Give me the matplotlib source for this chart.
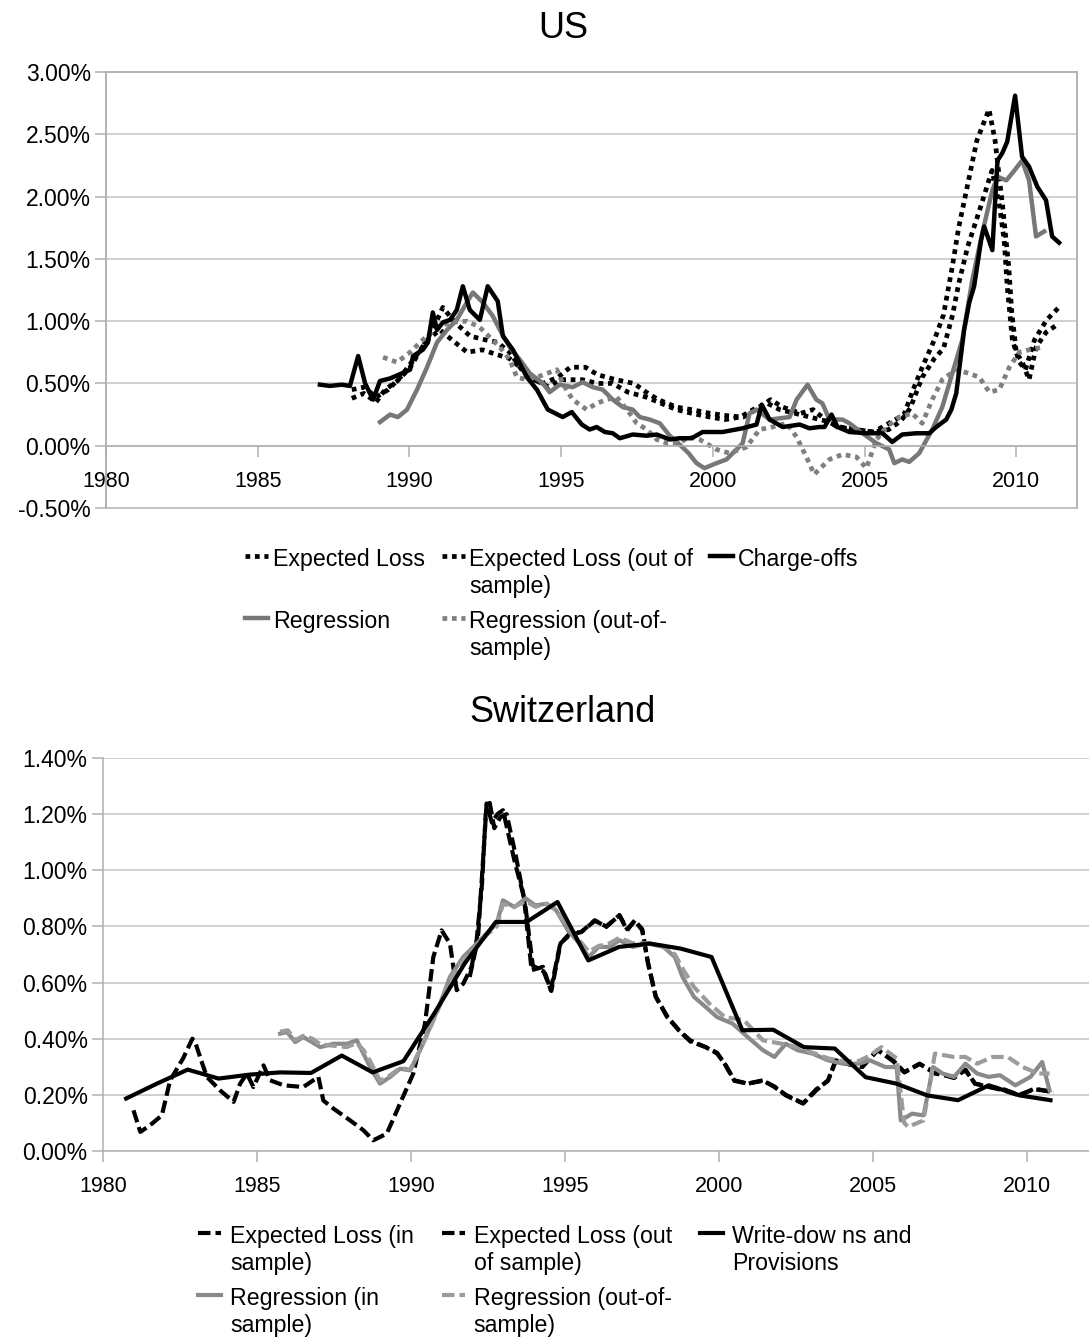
import matplotlib
matplotlib.use("Agg")
import matplotlib.pyplot as plt
import numpy as np
from matplotlib.ticker import FuncFormatter

plt.rcParams['font.family'] = ['Liberation Sans', 'DejaVu Sans']

# ---------------- US data (year, percent) ----------------
us_expected_loss = [(1988.1,0.38),(1988.5,0.42),(1988.9,0.35),(1989.2,0.45),(1989.6,0.52),(1990.0,0.62),(1990.4,0.78),(1990.8,0.95),(1991.1,1.11),(1991.5,0.99),(1992.0,0.88),(1992.5,0.85),(1992.9,0.83),(1993.3,0.75),(1993.7,0.61),(1994.1,0.53),(1994.4,0.50),(1994.9,0.55),(1995.3,0.63),(1995.8,0.63),(1996.2,0.57),(1996.8,0.53),(1997.4,0.50),(1997.8,0.43),(1998.2,0.37),(1998.8,0.31),(1999.3,0.29),(1999.9,0.26),(2000.5,0.24),(2001.0,0.23),(2001.5,0.30),(2001.9,0.37),(2002.3,0.31),(2002.9,0.26),(2003.3,0.29),(2003.6,0.23),(2004.1,0.15),(2004.7,0.13),(2005.3,0.11),(2005.8,0.18),(2006.3,0.25),(2006.6,0.45),(2006.9,0.63),(2007.3,0.85),(2007.6,1.05),(2007.9,1.45),(2008.1,1.75),(2008.4,2.10),(2008.7,2.45),(2009.1,2.70),(2009.3,2.45),(2009.45,2.13),(2009.55,1.92),(2009.75,1.44),(2009.85,1.07),(2010.0,0.75),(2010.2,0.67),(2010.42,0.53),(2010.65,0.79),(2010.98,0.91),(2011.4,0.98)]
us_expected_loss_out = [(1988.1,0.45),(1988.5,0.47),(1988.9,0.39),(1989.3,0.45),(1989.7,0.55),(1990.1,0.68),(1990.6,0.85),(1991.0,0.93),(1991.4,0.85),(1991.9,0.75),(1992.4,0.77),(1992.9,0.73),(1993.3,0.70),(1993.8,0.60),(1994.2,0.52),(1994.6,0.47),(1995.0,0.53),(1995.7,0.53),(1996.2,0.50),(1996.7,0.50),(1997.2,0.43),(1997.8,0.39),(1998.3,0.34),(1998.8,0.29),(1999.3,0.26),(1999.9,0.23),(2000.4,0.21),(2000.9,0.23),(2001.4,0.30),(2001.8,0.34),(2002.2,0.29),(2002.7,0.26),(2003.2,0.23),(2003.7,0.20),(2004.2,0.15),(2004.7,0.13),(2005.3,0.11),(2005.8,0.13),(2006.2,0.20),(2006.5,0.30),(2006.9,0.55),(2007.3,0.70),(2007.6,0.78),(2007.9,1.05),(2008.1,1.30),(2008.4,1.60),(2008.8,1.90),(2009.2,2.21),(2009.45,1.92),(2009.6,1.65),(2009.7,1.28),(2009.87,0.85),(2010.1,0.67),(2010.3,0.61),(2010.6,0.85),(2011.0,1.01),(2011.4,1.11)]
us_chargeoffs = [(1987.05,0.49),(1987.38,0.48),(1987.77,0.49),(1988.04,0.48),(1988.31,0.72),(1988.54,0.50),(1988.80,0.37),(1989.03,0.52),(1989.36,0.54),(1989.79,0.585),(1990.02,0.61),(1990.12,0.72),(1990.44,0.77),(1990.61,0.83),(1990.77,1.07),(1990.91,0.93),(1991.10,0.99),(1991.34,1.01),(1991.56,1.09),(1991.76,1.28),(1991.99,1.09),(1992.32,1.01),(1992.58,1.28),(1992.91,1.16),(1993.08,0.88),(1993.41,0.77),(1993.87,0.55),(1994.20,0.45),(1994.56,0.29),(1995.05,0.23),(1995.35,0.27),(1995.68,0.17),(1995.94,0.13),(1996.17,0.15),(1996.44,0.11),(1996.70,0.10),(1996.93,0.06),(1997.36,0.09),(1997.82,0.08),(1998.15,0.09),(1998.58,0.05),(1998.90,0.06),(1999.30,0.06),(1999.66,0.11),(2000.32,0.11),(2000.98,0.14),(2001.44,0.17),(2001.61,0.33),(2001.87,0.21),(2002.30,0.15),(2002.86,0.17),(2003.18,0.14),(2003.51,0.15),(2003.68,0.15),(2003.91,0.25),(2004.11,0.15),(2004.50,0.11),(2005.06,0.10),(2005.59,0.10),(2005.91,0.03),(2006.24,0.09),(2006.70,0.10),(2007.13,0.10),(2007.36,0.15),(2007.69,0.21),(2007.86,0.29),(2008.02,0.42),(2008.28,0.93),(2008.45,1.15),(2008.61,1.28),(2008.84,1.65),(2008.94,1.76),(2009.21,1.57),(2009.38,2.29),(2009.54,2.35),(2009.70,2.44),(2009.96,2.81),(2010.19,2.32),(2010.42,2.24),(2010.69,2.08),(2010.98,1.97),(2011.18,1.68),(2011.41,1.63)]
us_regression = [(1989.03,0.19),(1989.36,0.25),(1989.62,0.23),(1989.92,0.29),(1990.25,0.45),(1990.58,0.63),(1990.91,0.83),(1991.24,0.93),(1991.56,1.01),(1991.89,1.15),(1992.09,1.23),(1992.42,1.15),(1992.75,1.04),(1992.98,0.93),(1993.31,0.79),(1993.64,0.69),(1993.97,0.58),(1994.40,0.50),(1994.62,0.43),(1994.95,0.49),(1995.38,0.47),(1995.71,0.51),(1996.04,0.47),(1996.37,0.45),(1996.70,0.37),(1997.03,0.31),(1997.36,0.29),(1997.59,0.23),(1997.92,0.21),(1998.25,0.18),(1998.58,0.08),(1998.90,0.01),(1999.20,-0.06),(1999.46,-0.14),(1999.72,-0.18),(2000.12,-0.14),(2000.45,-0.11),(2000.78,-0.03),(2000.98,0.02),(2001.21,0.26),(2001.44,0.29),(2001.87,0.21),(2002.53,0.23),(2002.76,0.37),(2003.12,0.49),(2003.41,0.37),(2003.61,0.34),(2003.84,0.21),(2004.27,0.21),(2004.50,0.18),(2004.93,0.10),(2005.39,0.02),(2005.81,-0.03),(2005.98,-0.14),(2006.24,-0.11),(2006.47,-0.13),(2006.80,-0.06),(2007.23,0.13),(2007.56,0.31),(2007.89,0.58),(2008.22,0.85),(2008.55,1.33),(2008.88,1.71),(2009.21,2.05),(2009.38,2.16),(2009.67,2.13),(2009.94,2.21),(2010.19,2.29),(2010.42,2.13),(2010.65,1.68),(2010.92,1.72)]
us_regression_out = [(1989.13,0.71),(1989.59,0.67),(1990.02,0.75),(1990.44,0.85),(1990.91,0.95),(1991.34,0.99),(1991.9,1.00),(1992.32,0.95),(1992.65,0.87),(1992.98,0.79),(1993.31,0.69),(1993.54,0.55),(1993.87,0.53),(1994.2,0.55),(1994.53,0.58),(1994.86,0.61),(1995.05,0.50),(1995.38,0.37),(1995.84,0.29),(1996.17,0.34),(1996.5,0.37),(1996.83,0.39),(1997.26,0.26),(1997.49,0.18),(1997.82,0.13),(1998.15,0.05),(1998.48,0.02),(1998.9,0.02),(1999.2,0.07),(1999.56,0.05),(2000.12,-0.03),(2000.55,-0.06),(2001.11,-0.01),(2001.54,0.13),(2001.96,0.15),(2002.43,0.18),(2002.76,0.07),(2003.08,-0.09),(2003.34,-0.23),(2003.84,-0.11),(2004.27,-0.07),(2004.73,-0.09),(2005.06,-0.18),(2005.39,0.05),(2005.72,0.15),(2006.14,0.23),(2006.57,0.26),(2006.9,0.18),(2007.23,0.37),(2007.56,0.53),(2008.02,0.61),(2008.45,0.58),(2008.78,0.55),(2009.11,0.43),(2009.44,0.45),(2009.77,0.63),(2010.1,0.75),(2010.42,0.77),(2010.85,0.79)]

# ---------------- Switzerland data (year, percent) ----------------
ch_expected_loss_in = [(1980.99,0.145),(1981.21,0.068),(1981.53,0.092),(1981.91,0.127),(1982.18,0.252),(1982.6,0.33),(1982.9,0.40),(1983.0,0.385),(1983.15,0.335),(1983.37,0.264),(1983.80,0.216),(1984.24,0.175),(1984.45,0.24),(1984.67,0.276),(1984.88,0.228),(1985.21,0.305),(1985.42,0.252),(1985.86,0.234),(1986.5,0.228),(1986.99,0.264),(1987.15,0.18),(1987.48,0.151),(1988.02,0.109),(1988.45,0.074),(1988.77,0.038),(1989.21,0.062),(1989.64,0.169),(1990.07,0.276),(1990.45,0.454),(1990.72,0.691),(1990.99,0.786),(1991.26,0.739),(1991.48,0.573),(1991.69,0.596),(1991.96,0.656),(1992.18,0.775),(1992.34,1.047),(1992.45,1.238),(1992.62,1.17),(1992.80,1.20),(1992.98,1.214),(1993.35,1.036),(1993.66,0.905),(1993.91,0.644),(1994.28,0.656),(1994.53,0.573),(1994.84,0.739),(1995.15,0.775),(1995.52,0.780),(1995.96,0.822),(1996.33,0.798),(1996.76,0.840),(1997.01,0.786),(1997.26,0.822),(1997.5,0.786),(1997.69,0.667),(1997.94,0.549),(1998.31,0.477),(1998.69,0.430),(1999.06,0.394),(1999.56,0.370),(1999.93,0.347),(2000.18,0.311),(2000.49,0.252),(2000.92,0.240),(2001.42,0.252),(2001.79,0.228),(2002.16,0.198),(2002.72,0.169),(2003.15,0.216),(2003.53,0.252),(2003.78,0.323),(2004.15,0.311),(2004.64,0.299),(2005.14,0.359),(2005.64,0.323),(2006.01,0.281),(2006.5,0.311),(2007.0,0.276),(2007.62,0.264),(2007.99,0.287),(2008.30,0.240),(2008.74,0.228),(2009.23,0.216),(2009.73,0.198),(2010.23,0.222),(2010.85,0.210)]
ch_expected_loss_out = [(1991.9,0.62),(1992.1,0.72),(1992.3,0.95),(1992.42,1.20),(1992.55,1.24),(1992.7,1.15),(1992.9,1.19),(1993.1,1.20),(1993.4,1.05),(1993.7,0.88),(1993.95,0.66),(1994.3,0.64),(1994.55,0.57),(1994.85,0.74),(1995.15,0.77),(1995.52,0.78),(1995.96,0.82),(1996.33,0.80),(1996.76,0.84),(1997.01,0.79),(1997.26,0.82),(1997.5,0.79),(1997.69,0.67),(1997.94,0.55),(1998.31,0.48),(1998.69,0.43),(1999.06,0.39),(1999.56,0.37),(1999.93,0.35),(2000.18,0.31),(2000.49,0.25),(2000.92,0.24),(2001.42,0.25),(2001.79,0.23),(2002.16,0.20),(2002.72,0.17),(2003.15,0.22),(2003.53,0.25),(2003.78,0.32),(2004.15,0.31),(2004.64,0.30),(2005.14,0.36),(2005.64,0.32),(2006.01,0.28),(2006.5,0.31),(2007.0,0.28),(2007.62,0.26),(2007.99,0.29),(2008.30,0.24),(2008.74,0.23),(2009.23,0.22),(2009.73,0.20),(2010.23,0.22),(2010.85,0.21)]
ch_writedowns = [(1980.75,0.187),(1981.75,0.24),(1982.75,0.29),(1983.75,0.258),(1984.75,0.272),(1985.75,0.28),(1986.75,0.278),(1987.75,0.34),(1988.75,0.28),(1989.75,0.32),(1990.75,0.49),(1991.75,0.67),(1992.75,0.816),(1993.75,0.816),(1994.75,0.887),(1995.75,0.679),(1996.75,0.727),(1997.75,0.739),(1998.75,0.721),(1999.75,0.691),(2000.75,0.430),(2001.75,0.432),(2002.75,0.370),(2003.75,0.365),(2004.75,0.263),(2005.75,0.240),(2006.75,0.198),(2007.75,0.181),(2008.75,0.234),(2009.75,0.198),(2010.75,0.181)]
ch_regression_in = [(1985.75,0.418),(1985.97,0.424),(1986.24,0.388),(1986.5,0.406),(1986.75,0.39),(1987.05,0.370),(1987.48,0.382),(1987.91,0.382),(1988.24,0.394),(1988.45,0.347),(1988.67,0.299),(1988.99,0.240),(1989.32,0.264),(1989.64,0.293),(1989.97,0.287),(1990.29,0.359),(1990.62,0.442),(1990.94,0.525),(1991.26,0.620),(1991.69,0.691),(1992.13,0.739),(1992.45,0.775),(1992.78,0.81),(1992.98,0.893),(1993.35,0.869),(1993.72,0.90),(1994.03,0.875),(1994.40,0.881),(1994.71,0.857),(1995.09,0.786),(1995.46,0.739),(1995.77,0.691),(1996.08,0.727),(1996.45,0.727),(1996.76,0.751),(1997.19,0.727),(1997.69,0.739),(1998.19,0.727),(1998.56,0.691),(1998.81,0.620),(1999.18,0.549),(1999.56,0.513),(1999.93,0.477),(2000.43,0.454),(2000.92,0.406),(2001.42,0.359),(2001.79,0.335),(2002.16,0.382),(2002.54,0.359),(2003.03,0.347),(2003.53,0.323),(2004.02,0.311),(2004.52,0.311),(2004.89,0.323),(2005.39,0.299),(2005.76,0.299),(2005.89,0.109),(2006.26,0.133),(2006.63,0.127),(2006.94,0.299),(2007.25,0.276),(2007.62,0.264),(2007.99,0.311),(2008.37,0.276),(2008.74,0.264),(2009.11,0.270),(2009.61,0.234),(2010.10,0.264),(2010.48,0.317),(2010.72,0.216)]
ch_regression_out = [(1985.75,0.425),(1986.0,0.43),(1986.24,0.395),(1986.5,0.41),(1986.8,0.40),(1987.05,0.38),(1987.48,0.375),(1987.91,0.37),(1988.24,0.385),(1988.45,0.36),(1988.67,0.32),(1988.99,0.25),(1989.32,0.27),(1989.64,0.295),(1989.97,0.29),(1990.29,0.36),(1990.62,0.44),(1990.94,0.52),(1991.26,0.61),(1991.69,0.68),(1992.13,0.73),(1992.45,0.77),(1992.78,0.80),(1992.98,0.88),(1993.35,0.87),(1993.72,0.89),(1994.03,0.87),(1994.40,0.88),(1994.71,0.86),(1995.09,0.80),(1995.46,0.75),(1995.77,0.71),(1996.08,0.73),(1996.45,0.74),(1996.76,0.76),(1997.19,0.74),(1997.69,0.74),(1998.19,0.73),(1998.56,0.70),(1998.81,0.65),(1999.18,0.584),(1999.68,0.525),(2000.18,0.477),(2000.80,0.466),(2001.42,0.394),(2002.04,0.382),(2002.54,0.37),(2003.03,0.35),(2003.53,0.33),(2004.02,0.32),(2004.52,0.32),(2004.89,0.34),(2005.26,0.370),(2005.76,0.33),(2006.0,0.10),(2006.13,0.086),(2006.63,0.109),(2007.0,0.347),(2007.62,0.335),(2007.99,0.335),(2008.37,0.311),(2008.87,0.335),(2009.36,0.335),(2009.85,0.299),(2010.35,0.276),(2010.72,0.276)]

us_labels = ["Expected Loss", "Expected Loss (out of\nsample)", "Charge-offs",
             "Regression", "Regression (out-of-\nsample)"]
ch_labels = ["Expected Loss (in\nsample)", "Expected Loss (out\nof sample)",
             "Write-dow ns and\nProvisions", "Regression (in\nsample)",
             "Regression (out-of-\nsample)"]
year_ticks = [1980, 1985, 1990, 1995, 2000, 2005, 2010]
us_yticks = [-0.5, 0.0, 0.5, 1.0, 1.5, 2.0, 2.5, 3.0]
ch_yticks = [0.0, 0.2, 0.4, 0.6, 0.8, 1.0, 1.2, 1.4]


def xy(pairs):
    return [p[0] for p in pairs], [p[1] for p in pairs]


W, H = 1089, 1342
fig = plt.figure(figsize=(W / 100, H / 100), dpi=100)
FS = 15.5
FS_Y = 16.5
FS_LEG = 16.7
GRID = '#c4c4c4'
AXC = '#b0b0b0'
pct = FuncFormatter(lambda v, p: f"{v:.2f}%")

DOT = (0, (1.0, 1.0))
DASH = (0, (3.0, 1.2))


def style_axis(ax, yticks):
    ax.set_xticks(year_ticks)
    ax.set_yticks(yticks)
    ax.yaxis.set_major_formatter(pct)
    ax.set_axisbelow(True)
    ax.yaxis.grid(True, color=GRID, lw=1.1)
    ax.tick_params(axis='x', direction='out', length=8, width=1.1, color=AXC,
                   pad=10, labelsize=FS)
    ax.tick_params(axis='y', direction='out', length=8, width=1.1, color=AXC,
                   pad=3, labelsize=FS_Y)
    for s in ax.spines.values():
        s.set_color(AXC)
        s.set_linewidth(1.1)


def make_legend(handles, labels, anchor, colsp, textpad):
    leg = fig.legend(handles, labels, loc='upper left', bbox_to_anchor=anchor,
                     bbox_transform=fig.transFigure, ncol=3, frameon=False,
                     fontsize=FS_LEG, borderpad=0, borderaxespad=0,
                     handlelength=1.0, handletextpad=textpad,
                     columnspacing=colsp, labelspacing=0.5)
    for t in leg.get_texts():
        t.set_linespacing(1.22)
    for col in leg._legend_handle_box.get_children():
        for item in col.get_children():
            item.align = 'top'
    return leg


# ---------------- US panel ----------------
ax1 = fig.add_axes([106 / W, 1 - 508 / H, 971 / W, 436 / H])
x, y = xy(us_expected_loss)
l_el, = ax1.plot(x, y, color='black', lw=3.4, ls=DOT, dash_capstyle='butt')
x, y = xy(us_expected_loss_out)
l_elo, = ax1.plot(x, y, color='black', lw=3.4, ls=DOT, dash_capstyle='butt')
x, y = xy(us_regression)
l_reg, = ax1.plot(x, y, color='#777777', lw=3.2)
x, y = xy(us_regression_out)
l_rego, = ax1.plot(x, y, color='#808080', lw=3.4, ls=DOT, dash_capstyle='butt')
x, y = xy(us_chargeoffs)
l_co, = ax1.plot(x, y, color='black', lw=3.2)
ax1.set_xlim(1980, 2012)
ax1.set_ylim(-0.5, 3.0)
style_axis(ax1, us_yticks)
ax1.spines['bottom'].set_position(('data', 0))
ax1.patch.set_edgecolor(AXC)
ax1.patch.set_linewidth(1.1)
fig.text(563 / W, 1 - 38 / H, "US", ha='center', va='baseline', fontsize=26)

h = [l_el, l_elo, l_co, l_reg, l_rego]
order = [0, 3, 1, 4, 2]
lab = [us_labels[i] if '\n' in us_labels[i] else us_labels[i] + "\n" for i in order]
make_legend([h[i] for i in order], lab, (245 / W, 1 - 548 / H), 0.72, 0.2)

# ---------------- Switzerland panel ----------------
ax2 = fig.add_axes([103 / W, 1 - 1151 / H, 986 / W, 393 / H])
x, y = xy(ch_expected_loss_in)
c_eli, = ax2.plot(x, y, color='black', lw=3.0, ls=DASH, dash_capstyle='butt')
x, y = xy(ch_expected_loss_out)
c_elo, = ax2.plot(x, y, color='black', lw=3.0, ls=DASH, dash_capstyle='butt')
x, y = xy(ch_regression_in)
c_regi, = ax2.plot(x, y, color='#8a8a8a', lw=3.0)
x, y = xy(ch_regression_out)
c_rego, = ax2.plot(x, y, color='#9c9c9c', lw=3.0, ls=DASH, dash_capstyle='butt')
x, y = xy(ch_writedowns)
c_wd, = ax2.plot(x, y, color='black', lw=3.0)
ax2.set_xlim(1980, 2012)
ax2.set_ylim(0, 1.4)
style_axis(ax2, ch_yticks)
ax2.spines['top'].set_visible(False)
ax2.spines['right'].set_visible(False)
fig.text(563 / W, 1 - 722 / H, "Switzerland", ha='center', va='baseline', fontsize=26)

h2 = [c_eli, c_elo, c_wd, c_regi, c_rego]
make_legend([h2[i] for i in order], [ch_labels[i] for i in order],
            (198 / W, 1 - 1225 / H), 1.2, 0.38)

fig.savefig('out.png', dpi=100)
